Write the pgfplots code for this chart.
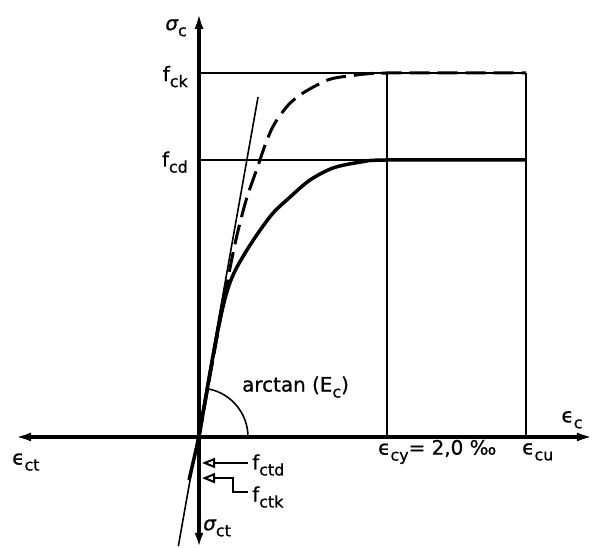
\documentclass[border=0pt]{standalone}
\usepackage{pgfplots}
\pgfplotsset{compat=1.18}
\usetikzlibrary{arrows.meta}
\usepackage{fontspec}
\setmainfont{DejaVu Sans}
\newcommand\lf{\fontsize{20}{24}\selectfont\addfontfeature{FakeBold=0.7}}
\newcommand\sub[1]{\raisebox{-0.3em}{\fontsize{16}{16}\selectfont #1}}
\newcommand\sig{{\itshape σ}}
\newcommand\eps{ϵ}

\begin{document}
\begin{tikzpicture}
\begin{axis}[name=ax, hide axis, scale only axis,
  width=594bp, height=548bp,
  xmin=-2.117, xmax=4.202, ymin=-0.305, ymax=1.2005,
  clip=false]

% axes
\addplot[line width=3.2bp, {Latex[length=16bp,width=9bp]}-{Latex[length=16bp,width=9bp]}]
  coordinates {(-1.957,0) (4.191,0)};
\addplot[line width=3.2bp, {Latex[length=14bp,width=9bp]}-{Latex[length=16bp,width=9bp]}]
  coordinates {(0,-0.302) (0,1.165)};

% f_ck, f_cd levels and strain limits
\addplot[line width=1.6bp] coordinates {(0,1) (3.48,1)};
\addplot[line width=2bp] coordinates {(0,0.761) (2,0.761)};
\addplot[line width=2.4bp] coordinates {(2,0) (2,1)};
\addplot[line width=2.4bp] coordinates {(3.48,0) (3.48,1)};

% tangent E_c
\addplot[line width=1.6bp] coordinates {(-0.220,-0.300) (0.628,0.934)};

% design curve
\addplot[line width=3.5bp, smooth] coordinates {
(0,0) (0.138,0.206) (0.223,0.321) (0.287,0.390) (0.340,0.431)
(0.404,0.467) (0.511,0.514) (0.628,0.560) (0.787,0.615) (0.968,0.659)
(1.181,0.706) (1.426,0.739) (1.713,0.755) (2.0,0.761) (3.48,0.761)
};

% characteristic curve
\addplot[line width=3bp, dash pattern=on 20bp off 8bp, smooth] coordinates {
(0,0) (0.15,0.215) (0.30,0.425) (0.40,0.55) (0.50,0.65)
(0.574,0.706) (0.638,0.753) (0.723,0.816) (0.809,0.863)
(0.95,0.912) (1.106,0.945) (1.372,0.981) (1.606,0.992) (2.0,1.0) (3.48,1.0)
};

% tension branch
\addplot[line width=3.5bp] coordinates {(0,0) (-0.106,-0.118)};

% f_ctd, f_ctk pointers
\addplot[line width=2bp, -{Triangle[open,length=13bp,width=10bp]}]
  coordinates {(0.521,-0.0714) (0.032,-0.0714)};
\addplot[line width=2bp, -{Triangle[open,length=13bp,width=10bp]}]
  coordinates {(0.521,-0.151) (0.362,-0.151) (0.362,-0.113) (0.032,-0.113)};

\draw[line width=1.6bp] (axis cs:0.521,0) arc[start angle=0, end angle=78, radius=49bp];

% labels
\node[font=\lf, anchor=east, inner sep=0pt] at (axis cs:-0.128,1.124) {\sig\sub{c}};
\node[font=\lf, anchor=west, inner sep=0pt] at (axis cs:0.043,-0.250) {\sig\sub{ct}};
\node[font=\lf, anchor=east, inner sep=0pt] at (axis cs:-0.117,0.99) {f\sub{ck}};
\node[font=\lf, anchor=east, inner sep=0pt] at (axis cs:-0.117,0.755) {f\sub{cd}};
\node[font=\lf, anchor=west, inner sep=0pt] at (axis cs:0.564,-0.077) {f\sub{ctd}};
\node[font=\lf, anchor=west, inner sep=0pt] at (axis cs:0.564,-0.165) {f\sub{ctk}};
\node[font=\lf, anchor=west, inner sep=0pt] at (axis cs:0.457,0.137) {arctan (E\sub{c})};
\node[font=\lf] at (axis cs:3.968,0.047) {\eps\sub{c}};
\node[font=\lf, anchor=west, inner sep=0pt] at (axis cs:-1.989,-0.069) {\eps\sub{ct}};
\node[font=\lf, anchor=west, inner sep=0pt] at (axis cs:1.904,-0.041) {\eps\sub{cy}= 2,0 ‰};
\node[font=\lf, anchor=west, inner sep=0pt] at (axis cs:3.436,-0.041) {\eps\sub{cu}};
\end{axis}
\pgfresetboundingbox
\path (ax.south west) rectangle (ax.north east);
\end{tikzpicture}
\end{document}
